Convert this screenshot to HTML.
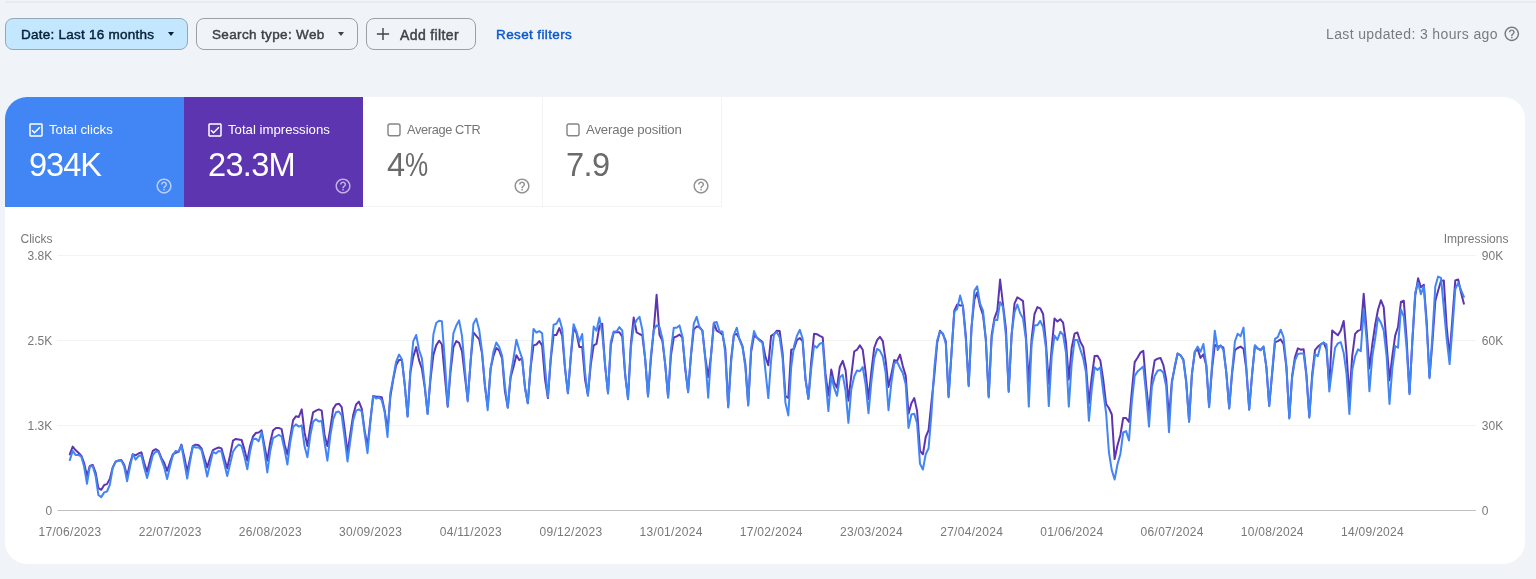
<!DOCTYPE html>
<html><head><meta charset="utf-8"><title>Performance</title>
<style>
*{box-sizing:border-box;margin:0;padding:0}
html,body{width:1536px;height:579px;overflow:hidden;background:#f0f4f9;font-family:"Liberation Sans",sans-serif;}
body{position:relative}
.topline{position:absolute;left:5px;top:1px;width:1531px;height:2px;background:#e8ecf1}
.chip{position:absolute;top:18px;height:32px;border:1px solid #9aa0a6;border-radius:8px;font-size:13.5px;color:#3f4245;line-height:30px;white-space:nowrap;-webkit-text-stroke:.45px currentColor}
.chip span{position:absolute;top:.9px}
.chip.sel{background:#c2e7ff;border-color:#93a7b8;color:#072038}
.tri{position:absolute;top:12.6px;width:0;height:0;border-left:3.8px solid transparent;border-right:3.8px solid transparent;border-top:4.2px solid #3f4245}
.chip.sel .tri{border-top-color:#072038}
.reset{position:absolute;left:495.6px;top:27.1px;font-size:13.5px;letter-spacing:.38px;color:#0b57d0;line-height:16px;white-space:nowrap;-webkit-text-stroke:.42px #0b57d0}
.updated{position:absolute;left:1326.3px;top:25.2px;font-size:14px;letter-spacing:.37px;color:#797c7f;line-height:18px;white-space:nowrap}
.card{position:absolute;left:5px;top:97px;width:1520px;height:467px;background:#fff;border-radius:22px;overflow:hidden}
.tile{position:absolute;top:0;height:110px;width:179px}
.tile .lbl{position:absolute;left:43.6px;top:25.5px;font-size:13.2px;line-height:14px;white-space:nowrap}
.tile .val{position:absolute;left:24.2px;top:49.8px;font-size:32.6px;line-height:36px;white-space:nowrap}
.tile .cb{position:absolute;left:21.6px;top:24px;width:18px;height:18px}
.tile .help{position:absolute;left:149.8px;top:80.3px}
.t4 .help{left:150.2px}
.t1{left:0;background:#4285f4;color:#fff}
.t2{left:179px;background:#5e35b1;color:#fff}
.t3{left:358px;width:180px;color:#757575;border-right:1px solid #f2f2f2;border-bottom:1px solid #f2f2f2}
.t4{left:537px;width:180px;color:#757575;border-right:1px solid #f2f2f2;border-bottom:1px solid #f2f2f2}
.t3 .val,.t4 .val{color:#6a6a6a}
svg.chart{position:absolute;left:0;top:0;will-change:transform}
.chip span,.reset,.updated,.tile .lbl,.tile .val{will-change:transform}
svg.chart text{font-family:"Liberation Sans",sans-serif;font-size:12px;fill:#787878}
svg.chart .xl text{letter-spacing:.3px}
</style></head><body>
<div class="topline"></div>
<div class="chip sel" style="left:5px;width:183px"><span style="left:14.9px;letter-spacing:.25px">Date: Last 16 months</span><i class="tri" style="left:161.6px"></i></div>
<div class="chip" style="left:196px;width:162px"><span style="left:14.5px;letter-spacing:.35px">Search type: Web</span><i class="tri" style="left:140.8px"></i></div>
<div class="chip" style="left:366px;width:109.5px"><svg style="position:absolute;left:9px;top:8.2px" width="14" height="14" viewBox="0 0 14 14"><path d="M7 .9v12.2M.9 7h12.2" stroke="#3f4245" stroke-width="1.4" fill="none"/></svg><span style="left:33.3px;font-size:14px;letter-spacing:.38px">Add filter</span></div>
<div class="reset">Reset filters</div>
<div class="updated">Last updated: 3 hours ago</div>
<div style="position:absolute;left:1503.2px;top:25.1px;width:17.6px;height:17.6px"><svg width="17.6" height="17.6" viewBox="0 0 24 24" fill="#797c7f"><path d="M11 18h2v-2h-2v2zm1-16C6.48 2 2 6.480 2 12s4.480 10 10 10 10-4.480 10-10S17.520 2 12 2zm0 18c-4.410 0-8-3.590-8-8s3.590-8 8-8 8 3.590 8 8-3.590 8-8 8zm0-14c-2.210 0-4 1.790-4 4h2c0-1.100.9-2 2-2s2 .9 2 2c0 2-3 1.750-3 5h2c0-2.250 3-2.500 3-5 0-2.210-1.790-4-4-4z"/></svg></div>

<div class="card">
 <div class="tile t1"><svg class="cb" viewBox="0 0 24 24" fill="#fff"><path d="M19 3H5c-1.100 0-2 .9-2 2v14c0 1.100.9 2 2 2h14c1.100 0 2-.9 2-2V5c0-1.100-.9-2-2-2zm0 16H5V5h14v14zM17.990 9l-1.410-1.420-6.590 6.590-2.580-2.570-1.420 1.410 4 3.990z"/></svg><div class="lbl">Total clicks</div><div class="val" style="letter-spacing:-1.05px">934K</div><svg class="help" width="18.1" height="18.1" viewBox="0 0 24 24" fill="rgba(255,255,255,.62)"><path d="M11 18h2v-2h-2v2zm1-16C6.48 2 2 6.480 2 12s4.480 10 10 10 10-4.480 10-10S17.520 2 12 2zm0 18c-4.410 0-8-3.590-8-8s3.590-8 8-8 8 3.590 8 8-3.590 8-8 8zm0-14c-2.210 0-4 1.790-4 4h2c0-1.100.9-2 2-2s2 .9 2 2c0 2-3 1.750-3 5h2c0-2.250 3-2.500 3-5 0-2.210-1.790-4-4-4z"/></svg></div>
 <div class="tile t2"><svg class="cb" viewBox="0 0 24 24" fill="#fff"><path d="M19 3H5c-1.100 0-2 .9-2 2v14c0 1.100.9 2 2 2h14c1.100 0 2-.9 2-2V5c0-1.100-.9-2-2-2zm0 16H5V5h14v14zM17.990 9l-1.410-1.420-6.590 6.590-2.580-2.570-1.420 1.410 4 3.990z"/></svg><div class="lbl">Total impressions</div><div class="val" style="letter-spacing:-.7px">23.3M</div><svg class="help" width="18.1" height="18.1" viewBox="0 0 24 24" fill="rgba(255,255,255,.62)"><path d="M11 18h2v-2h-2v2zm1-16C6.48 2 2 6.480 2 12s4.480 10 10 10 10-4.480 10-10S17.520 2 12 2zm0 18c-4.410 0-8-3.590-8-8s3.590-8 8-8 8 3.590 8 8-3.590 8-8 8zm0-14c-2.210 0-4 1.790-4 4h2c0-1.100.9-2 2-2s2 .9 2 2c0 2-3 1.750-3 5h2c0-2.250 3-2.500 3-5 0-2.210-1.790-4-4-4z"/></svg></div>
 <div class="tile t3"><svg class="cb" viewBox="0 0 24 24" fill="none"><rect x="4" y="4" width="16" height="15.6" rx="2.6" stroke="#858585" stroke-width="1.9"/></svg><div class="lbl" style="font-size:12.8px;letter-spacing:-.36px">Average CTR</div><div class="val">4<span style="display:inline-block;transform:scaleX(.8);transform-origin:0 50%;margin-left:-.5px">%</span></div><svg class="help" width="18.1" height="18.1" viewBox="0 0 24 24" fill="#939393"><path d="M11 18h2v-2h-2v2zm1-16C6.48 2 2 6.480 2 12s4.480 10 10 10 10-4.480 10-10S17.520 2 12 2zm0 18c-4.410 0-8-3.590-8-8s3.590-8 8-8 8 3.590 8 8-3.590 8-8 8zm0-14c-2.210 0-4 1.790-4 4h2c0-1.100.9-2 2-2s2 .9 2 2c0 2-3 1.750-3 5h2c0-2.250 3-2.500 3-5 0-2.210-1.790-4-4-4z"/></svg></div>
 <div class="tile t4"><svg class="cb" viewBox="0 0 24 24" fill="none"><rect x="4" y="4" width="16" height="15.6" rx="2.6" stroke="#858585" stroke-width="1.9"/></svg><div class="lbl" style="letter-spacing:-.15px">Average position</div><div class="val" style="letter-spacing:-.6px;margin-left:.1px">7.9</div><svg class="help" width="18.1" height="18.1" viewBox="0 0 24 24" fill="#939393"><path d="M11 18h2v-2h-2v2zm1-16C6.48 2 2 6.480 2 12s4.480 10 10 10 10-4.480 10-10S17.520 2 12 2zm0 18c-4.410 0-8-3.590-8-8s3.590-8 8-8 8 3.590 8 8-3.590 8-8 8zm0-14c-2.210 0-4 1.790-4 4h2c0-1.100.9-2 2-2s2 .9 2 2c0 2-3 1.750-3 5h2c0-2.250 3-2.500 3-5 0-2.210-1.790-4-4-4z"/></svg></div>
</div>

<svg class="chart" width="1536" height="579" viewBox="0 0 1536 579">
 <g stroke="#f3f3f3" stroke-width="1">
  <line x1="57.5" y1="255.5" x2="1476" y2="255.5"/>
  <line x1="57.5" y1="340.5" x2="1476" y2="340.5"/>
  <line x1="57.5" y1="425.5" x2="1476" y2="425.5"/>
 </g>
 <line x1="57.5" y1="510.5" x2="1476" y2="510.5" stroke="#c0c0c0" stroke-width="1"/>
 <text x="20.5" y="243.3">Clicks</text>
 <g text-anchor="end"><text x="52.3" y="259.8">3.8K</text><text x="52.3" y="344.8">2.5K</text><text x="52.3" y="429.8">1.3K</text><text x="52.3" y="514.8">0</text></g>
 <text x="1508.4" y="243.3" text-anchor="end">Impressions</text>
 <text x="1481.8" y="259.8">90K</text><text x="1481.8" y="344.8">60K</text><text x="1481.8" y="429.8">30K</text><text x="1481.8" y="514.8">0</text>
 <g class="xl"><text x="70.0" y="535.6" text-anchor="middle">17/06/2023</text><text x="170.2" y="535.6" text-anchor="middle">22/07/2023</text><text x="270.4" y="535.6" text-anchor="middle">26/08/2023</text><text x="370.6" y="535.6" text-anchor="middle">30/09/2023</text><text x="470.8" y="535.6" text-anchor="middle">04/11/2023</text><text x="571.0" y="535.6" text-anchor="middle">09/12/2023</text><text x="671.1" y="535.6" text-anchor="middle">13/01/2024</text><text x="771.3" y="535.6" text-anchor="middle">17/02/2024</text><text x="871.5" y="535.6" text-anchor="middle">23/03/2024</text><text x="971.7" y="535.6" text-anchor="middle">27/04/2024</text><text x="1071.9" y="535.6" text-anchor="middle">01/06/2024</text><text x="1172.1" y="535.6" text-anchor="middle">06/07/2024</text><text x="1272.3" y="535.6" text-anchor="middle">10/08/2024</text><text x="1372.5" y="535.6" text-anchor="middle">14/09/2024</text></g>
 <path d="M69.8,454.4 L72.7,446.6 L75.5,450.1 L78.4,452.7 L81.3,455.6 L84.1,463.0 L87.0,476.0 L89.8,466.0 L92.7,464.8 L95.6,472.5 L98.4,488.1 L101.3,489.8 L104.2,485.0 L107.0,484.1 L109.9,478.6 L112.7,467.4 L115.6,461.7 L118.5,460.4 L121.3,460.1 L124.2,464.8 L127.1,476.0 L129.9,463.9 L132.8,454.4 L135.6,455.3 L138.5,453.5 L141.4,452.3 L144.2,463.0 L147.1,471.7 L150.0,460.4 L152.8,450.9 L155.7,449.2 L158.5,450.9 L161.4,457.9 L164.3,463.0 L167.1,470.8 L170.0,462.2 L172.9,454.4 L175.7,452.7 L178.6,451.8 L181.4,444.6 L184.3,457.0 L187.2,471.7 L190.0,458.7 L192.9,445.8 L195.8,444.6 L198.6,445.3 L201.5,448.4 L204.3,457.9 L207.2,467.4 L210.1,457.9 L212.9,450.1 L215.8,448.7 L218.7,447.5 L221.5,448.4 L224.4,458.7 L227.2,468.2 L230.1,455.3 L233.0,440.6 L235.8,438.9 L238.7,439.4 L241.6,439.9 L244.4,449.4 L247.3,460.7 L250.1,446.0 L253.0,436.5 L255.9,433.0 L258.7,432.5 L261.6,430.4 L264.5,446.0 L267.3,460.7 L270.2,442.5 L273.0,430.4 L275.9,427.9 L278.8,427.9 L281.6,429.1 L284.5,444.3 L287.4,454.6 L290.2,437.4 L293.1,420.1 L295.9,416.3 L298.8,417.0 L301.7,409.4 L304.5,432.2 L307.4,446.0 L310.3,427.0 L313.1,412.3 L316.0,410.6 L318.8,409.4 L321.7,410.6 L324.6,435.6 L327.4,446.0 L330.3,428.7 L333.2,408.9 L336.0,404.5 L338.9,403.7 L341.7,407.1 L344.6,428.7 L347.5,452.9 L350.3,433.9 L353.2,414.9 L356.1,404.5 L358.9,401.6 L361.8,408.9 L364.6,430.4 L367.5,446.0 L370.4,420.1 L373.2,395.9 L376.1,396.8 L379.0,396.8 L381.8,397.3 L384.7,410.6 L387.5,430.4 L390.4,396.4 L393.3,379.1 L396.1,365.3 L399.0,360.1 L401.9,360.1 L404.7,384.3 L407.6,416.0 L410.4,372.2 L413.3,356.6 L416.2,347.1 L419.0,360.1 L421.9,368.7 L424.8,387.7 L427.6,413.5 L430.5,379.1 L433.4,354.9 L436.2,345.4 L439.1,340.7 L441.9,344.5 L444.8,375.6 L447.7,406.7 L450.5,372.2 L453.4,347.1 L456.3,341.1 L459.1,342.8 L462.0,351.5 L464.8,375.6 L467.7,399.8 L470.6,361.8 L473.4,332.5 L476.3,335.9 L479.2,339.4 L482.0,353.2 L484.9,386.0 L487.7,406.7 L490.6,368.7 L493.5,355.8 L496.3,348.0 L499.2,350.6 L502.1,358.4 L504.9,391.2 L507.8,407.6 L510.6,377.4 L513.5,367.0 L516.4,355.3 L519.2,360.1 L522.1,358.4 L525.0,387.7 L527.8,403.3 L530.7,367.0 L533.5,345.4 L536.4,344.5 L539.3,341.1 L542.1,345.4 L545.0,379.1 L547.9,398.1 L550.7,360.1 L553.6,335.0 L556.4,335.0 L559.3,328.1 L562.2,335.9 L565.0,368.7 L567.9,393.2 L570.8,357.4 L573.6,328.0 L576.5,333.2 L579.3,347.0 L582.2,347.0 L585.1,379.8 L587.9,395.0 L590.8,364.3 L593.7,345.3 L596.5,343.9 L599.4,326.3 L602.2,323.7 L605.1,366.0 L608.0,393.0 L610.8,345.3 L613.7,332.3 L616.6,332.3 L619.4,332.3 L622.3,336.6 L625.1,374.6 L628.0,398.5 L630.9,343.5 L633.7,317.6 L636.6,332.3 L639.5,334.0 L642.3,335.3 L645.2,359.1 L648.0,396.0 L650.9,359.1 L653.8,329.7 L656.6,294.8 L659.5,334.9 L662.4,340.9 L665.2,364.3 L668.1,397.0 L670.9,355.6 L673.8,337.5 L676.7,336.3 L679.5,334.6 L682.4,337.5 L685.3,369.4 L688.1,391.5 L691.0,355.6 L693.8,329.4 L696.7,326.6 L699.6,327.1 L702.4,330.6 L705.3,357.4 L708.2,377.0 L711.0,355.6 L713.9,322.8 L716.7,330.6 L719.6,332.3 L722.5,334.6 L725.3,348.7 L728.2,406.5 L731.1,359.1 L733.9,334.9 L736.8,334.0 L739.6,339.2 L742.5,346.1 L745.4,364.3 L748.2,404.5 L751.1,352.2 L754.0,335.8 L756.8,337.5 L759.7,339.7 L762.5,342.0 L765.4,356.6 L768.3,365.3 L771.1,335.9 L774.0,334.2 L776.9,330.7 L779.7,331.1 L782.6,353.2 L785.4,396.0 L788.3,398.0 L791.2,349.7 L794.0,348.9 L796.9,340.2 L799.8,338.0 L802.6,341.1 L805.5,379.1 L808.4,398.5 L811.2,361.8 L814.1,333.8 L816.9,334.2 L819.8,335.9 L822.7,337.3 L825.5,373.9 L828.4,395.5 L831.3,369.6 L834.1,382.5 L837.0,387.8 L839.8,367.0 L842.7,360.9 L845.6,370.4 L848.4,400.7 L851.3,375.6 L854.2,351.5 L857.0,349.7 L859.9,345.4 L862.7,349.7 L865.6,372.2 L868.5,399.0 L871.3,372.2 L874.2,348.0 L877.1,340.2 L879.9,336.8 L882.8,341.1 L885.6,360.1 L888.5,386.9 L891.4,373.9 L894.2,360.1 L897.1,360.9 L900.0,354.6 L902.8,366.1 L905.7,375.6 L908.5,413.7 L911.4,403.3 L914.3,398.1 L917.1,411.1 L920.0,450.8 L922.9,454.3 L925.7,437.0 L928.6,430.1 L931.4,402.5 L934.3,375.6 L937.2,342.8 L940.0,330.7 L942.9,334.2 L945.8,341.1 L948.6,396.4 L951.5,352.9 L954.3,310.6 L957.2,304.5 L960.1,305.4 L962.9,305.4 L965.8,335.6 L968.7,385.5 L971.5,327.0 L974.4,299.4 L977.2,292.5 L980.1,306.3 L983.0,314.9 L985.8,339.1 L988.7,396.5 L991.6,335.6 L994.4,318.4 L997.3,310.6 L1000.1,279.5 L1003.0,304.5 L1005.9,328.7 L1008.7,391.0 L1011.6,335.6 L1014.5,303.7 L1017.3,297.3 L1020.2,299.0 L1023.0,301.1 L1025.9,335.6 L1028.8,382.0 L1031.6,339.1 L1034.5,314.0 L1037.4,307.1 L1040.2,308.3 L1043.1,314.0 L1045.9,342.5 L1048.8,383.7 L1051.7,347.7 L1054.5,318.4 L1057.4,321.5 L1060.3,319.2 L1063.1,322.7 L1066.0,342.5 L1068.8,379.4 L1071.7,347.7 L1074.6,333.6 L1077.4,332.5 L1080.3,341.7 L1083.2,346.9 L1086.0,366.0 L1088.9,403.5 L1091.7,377.6 L1094.6,356.0 L1097.5,355.7 L1100.3,360.4 L1103.2,379.4 L1106.1,404.0 L1108.9,408.0 L1111.8,414.5 L1114.6,459.1 L1117.5,445.3 L1120.4,434.9 L1123.2,418.0 L1126.1,418.0 L1129.0,422.0 L1131.8,391.6 L1134.7,362.1 L1137.5,357.8 L1140.4,352.7 L1143.3,350.9 L1146.1,384.6 L1149.0,412.5 L1151.9,377.7 L1154.7,360.4 L1157.6,358.7 L1160.5,357.9 L1163.3,364.8 L1166.2,379.4 L1169.0,417.6 L1171.9,381.2 L1174.8,367.4 L1177.6,353.5 L1180.5,355.3 L1183.4,359.6 L1186.2,381.2 L1189.1,421.0 L1191.9,374.3 L1194.8,351.8 L1197.7,349.2 L1200.5,357.9 L1203.4,354.4 L1206.3,365.6 L1209.1,406.5 L1212.0,369.1 L1214.8,344.9 L1217.7,346.6 L1220.6,345.8 L1223.4,347.5 L1226.3,372.5 L1229.2,408.0 L1232.0,374.3 L1234.9,350.1 L1237.7,348.0 L1240.6,346.6 L1243.5,348.7 L1246.3,369.1 L1249.2,409.0 L1252.1,374.3 L1254.9,345.8 L1257.8,348.7 L1260.6,350.1 L1263.5,347.0 L1266.4,367.4 L1269.2,405.5 L1272.1,374.3 L1275.0,342.3 L1277.8,341.1 L1280.7,339.4 L1283.5,344.0 L1286.4,367.4 L1289.3,417.5 L1292.1,376.0 L1295.0,357.0 L1297.9,348.4 L1300.7,349.7 L1303.6,349.2 L1306.4,374.3 L1309.3,416.5 L1312.2,374.3 L1315.0,350.1 L1317.9,346.6 L1320.8,344.3 L1323.6,342.5 L1326.5,349.4 L1329.3,386.0 L1332.2,330.4 L1335.1,333.0 L1337.9,335.3 L1340.8,330.4 L1343.7,320.9 L1346.5,352.9 L1349.4,397.1 L1352.2,356.4 L1355.1,333.9 L1358.0,330.8 L1360.8,329.6 L1363.7,293.8 L1366.6,330.4 L1369.4,368.5 L1372.3,344.3 L1375.1,325.3 L1378.0,309.7 L1380.9,300.2 L1383.7,307.1 L1386.6,344.3 L1389.5,380.2 L1392.3,356.4 L1395.2,335.6 L1398.0,327.0 L1400.9,302.0 L1403.8,300.7 L1406.6,339.1 L1409.5,393.0 L1412.4,340.8 L1415.2,295.9 L1418.1,278.3 L1420.9,287.3 L1423.8,284.7 L1426.7,321.8 L1429.5,377.0 L1432.4,342.5 L1435.3,301.1 L1438.1,290.7 L1441.0,280.7 L1443.8,280.4 L1446.7,327.0 L1449.6,356.4 L1452.4,318.4 L1455.3,280.4 L1458.2,279.5 L1461.0,292.5 L1463.9,303.7" fill="none" stroke="#5e35b1" stroke-width="2" stroke-linejoin="round" stroke-linecap="round"/>
 <path d="M69.8,460.1 L72.7,450.9 L75.5,454.9 L78.4,454.9 L81.3,456.6 L84.1,466.5 L87.0,483.8 L89.8,466.5 L92.7,466.0 L95.6,476.0 L98.4,495.0 L101.3,497.1 L104.2,492.4 L107.0,491.5 L109.9,484.6 L112.7,468.2 L115.6,461.8 L118.5,460.8 L121.3,460.4 L124.2,466.5 L127.1,481.2 L129.9,467.4 L132.8,453.9 L135.6,459.6 L138.5,456.1 L141.4,455.3 L144.2,467.4 L147.1,478.1 L150.0,466.5 L152.8,455.3 L155.7,451.5 L158.5,451.8 L161.4,459.6 L164.3,467.4 L167.1,479.1 L170.0,466.5 L172.9,455.3 L175.7,450.9 L178.6,451.8 L181.4,445.3 L184.3,462.2 L187.2,478.6 L190.0,462.2 L192.9,446.3 L195.8,447.5 L198.6,447.5 L201.5,450.1 L204.3,462.2 L207.2,476.5 L210.1,463.9 L212.9,451.8 L215.8,453.5 L218.7,450.9 L221.5,451.5 L224.4,463.9 L227.2,476.0 L230.1,463.9 L233.0,451.8 L235.8,447.5 L238.7,444.6 L241.6,446.0 L244.4,456.4 L247.3,469.3 L250.1,451.2 L253.0,439.1 L255.9,438.7 L258.7,441.2 L261.6,432.2 L264.5,451.2 L267.3,472.4 L270.2,451.2 L273.0,438.2 L275.9,436.5 L278.8,434.8 L281.6,436.5 L284.5,449.4 L287.4,464.6 L290.2,442.5 L293.1,427.0 L295.9,424.4 L298.8,426.6 L301.7,425.3 L304.5,446.0 L307.4,457.2 L310.3,435.6 L313.1,421.8 L316.0,419.2 L318.8,421.5 L321.7,420.9 L324.6,442.5 L327.4,460.7 L330.3,435.6 L333.2,419.2 L336.0,412.3 L338.9,411.5 L341.7,415.3 L344.6,437.4 L347.5,461.5 L350.3,440.8 L353.2,420.1 L356.1,410.6 L358.9,409.4 L361.8,411.5 L364.6,433.0 L367.5,453.2 L370.4,421.8 L373.2,395.9 L376.1,398.5 L379.0,397.3 L381.8,400.2 L384.7,412.3 L387.5,437.0 L390.4,392.9 L393.3,377.4 L396.1,361.8 L399.0,354.6 L401.9,359.2 L404.7,384.3 L407.6,416.8 L410.4,370.4 L413.3,341.1 L416.2,335.0 L419.0,349.7 L421.9,358.4 L424.8,386.0 L427.6,414.1 L430.5,375.6 L433.4,334.2 L436.2,323.0 L439.1,320.7 L441.9,321.2 L444.8,360.1 L447.7,405.9 L450.5,367.0 L453.4,333.3 L456.3,325.5 L459.1,320.4 L462.0,335.9 L464.8,368.7 L467.7,401.5 L470.6,361.8 L473.4,323.8 L476.3,318.6 L479.2,329.9 L482.0,351.5 L484.9,384.3 L487.7,410.2 L490.6,368.7 L493.5,351.5 L496.3,342.5 L499.2,347.1 L502.1,355.8 L504.9,386.0 L507.8,407.6 L510.6,375.6 L513.5,358.4 L516.4,339.7 L519.2,349.7 L522.1,358.4 L525.0,387.7 L527.8,403.3 L530.7,365.3 L533.5,329.0 L536.4,332.5 L539.3,331.1 L542.1,333.3 L545.0,367.0 L547.9,397.2 L550.7,358.4 L553.6,324.7 L556.4,323.8 L559.3,318.6 L562.2,329.0 L565.0,367.0 L567.9,393.2 L570.8,355.6 L573.6,324.2 L576.5,331.5 L579.3,341.8 L582.2,334.0 L585.1,372.9 L587.9,395.8 L590.8,359.1 L593.7,326.6 L596.5,330.6 L599.4,317.6 L602.2,333.2 L605.1,364.3 L608.0,393.6 L610.8,341.8 L613.7,331.5 L616.6,331.5 L619.4,327.1 L622.3,330.6 L625.1,372.9 L628.0,399.3 L630.9,347.0 L633.7,326.3 L636.6,320.2 L639.5,316.8 L642.3,329.7 L645.2,359.1 L648.0,396.8 L650.9,355.6 L653.8,329.7 L656.6,325.4 L659.5,327.1 L662.4,338.4 L665.2,364.3 L668.1,397.8 L670.9,350.4 L673.8,327.7 L676.7,327.7 L679.5,325.4 L682.4,336.6 L685.3,367.7 L688.1,392.3 L691.0,353.9 L693.8,323.7 L696.7,316.8 L699.6,328.0 L702.4,330.6 L705.3,359.1 L708.2,397.8 L711.0,355.6 L713.9,322.8 L716.7,322.0 L719.6,331.5 L722.5,331.5 L725.3,353.9 L728.2,407.5 L731.1,362.5 L733.9,334.9 L736.8,327.7 L739.6,340.1 L742.5,347.0 L745.4,367.7 L748.2,405.6 L751.1,348.7 L754.0,331.1 L756.8,337.5 L759.7,340.7 L762.5,342.8 L765.4,370.4 L768.3,398.1 L771.1,360.1 L774.0,334.2 L776.9,332.1 L779.7,337.6 L782.6,358.4 L785.4,402.5 L788.3,415.4 L791.2,367.0 L794.0,346.3 L796.9,335.9 L799.8,329.9 L802.6,338.5 L805.5,379.1 L808.4,399.0 L811.2,368.7 L814.1,345.4 L816.9,347.7 L819.8,343.7 L822.7,342.8 L825.5,379.1 L828.4,411.1 L831.3,376.5 L834.1,387.7 L837.0,395.9 L839.8,377.4 L842.7,374.8 L845.6,391.2 L848.4,422.8 L851.3,389.4 L854.2,376.5 L857.0,370.4 L859.9,371.3 L862.7,367.0 L865.6,384.3 L868.5,413.2 L871.3,382.5 L874.2,358.4 L877.1,348.9 L879.9,350.6 L882.8,356.6 L885.6,372.2 L888.5,410.2 L891.4,382.5 L894.2,363.5 L897.1,361.8 L900.0,367.9 L902.8,373.0 L905.7,384.3 L908.5,428.0 L911.4,414.5 L914.3,413.7 L917.1,423.2 L920.0,463.8 L922.9,469.5 L925.7,454.3 L928.6,448.2 L931.4,414.5 L934.3,368.7 L937.2,340.2 L940.0,331.6 L942.9,333.3 L945.8,343.7 L948.6,397.2 L951.5,352.9 L954.3,311.5 L957.2,308.9 L960.1,295.6 L962.9,306.3 L965.8,339.1 L968.7,386.3 L971.5,328.7 L974.4,290.7 L977.2,286.4 L980.1,303.7 L983.0,310.6 L985.8,339.1 L988.7,397.5 L991.6,339.1 L994.4,320.1 L997.3,320.1 L1000.1,302.0 L1003.0,307.1 L1005.9,335.6 L1008.7,392.0 L1011.6,333.9 L1014.5,312.3 L1017.3,304.5 L1020.2,313.2 L1023.0,318.4 L1025.9,339.1 L1028.8,406.6 L1031.6,344.3 L1034.5,325.3 L1037.4,325.3 L1040.2,320.9 L1043.1,327.0 L1045.9,347.7 L1048.8,406.1 L1051.7,356.4 L1054.5,335.6 L1057.4,339.9 L1060.3,331.8 L1063.1,334.8 L1066.0,352.9 L1068.8,406.6 L1071.7,363.3 L1074.6,339.9 L1077.4,339.9 L1080.3,349.4 L1083.2,358.1 L1086.0,372.5 L1088.9,420.8 L1091.7,389.7 L1094.6,367.3 L1097.5,369.9 L1100.3,367.3 L1103.2,391.5 L1106.1,413.0 L1108.9,452.0 L1111.8,470.3 L1114.6,479.5 L1117.5,464.3 L1120.4,453.9 L1123.2,432.5 L1126.1,431.1 L1129.0,440.5 L1131.8,402.0 L1134.7,375.9 L1137.5,371.6 L1140.4,369.1 L1143.3,366.5 L1146.1,393.3 L1149.0,426.6 L1151.9,386.4 L1154.7,376.0 L1157.6,370.8 L1160.5,369.9 L1163.3,372.5 L1166.2,386.4 L1169.0,432.3 L1171.9,382.9 L1174.8,365.6 L1177.6,353.5 L1180.5,355.3 L1183.4,360.4 L1186.2,382.9 L1189.1,422.0 L1191.9,374.3 L1194.8,351.8 L1197.7,346.6 L1200.5,351.8 L1203.4,344.0 L1206.3,365.6 L1209.1,407.3 L1212.0,365.6 L1214.8,330.7 L1217.7,350.1 L1220.6,345.3 L1223.4,350.1 L1226.3,372.5 L1229.2,408.7 L1232.0,372.5 L1234.9,341.5 L1237.7,333.7 L1240.6,336.3 L1243.5,327.6 L1246.3,367.4 L1249.2,409.9 L1252.1,374.3 L1254.9,345.3 L1257.8,348.4 L1260.6,350.1 L1263.5,346.3 L1266.4,367.4 L1269.2,406.2 L1272.1,372.5 L1275.0,338.9 L1277.8,337.1 L1280.7,329.7 L1283.5,337.1 L1286.4,365.6 L1289.3,418.6 L1292.1,377.7 L1295.0,360.4 L1297.9,353.9 L1300.7,353.5 L1303.6,353.5 L1306.4,376.0 L1309.3,417.7 L1312.2,377.7 L1315.0,354.4 L1317.9,356.1 L1320.8,344.3 L1323.6,342.5 L1326.5,344.3 L1329.3,391.5 L1332.2,368.4 L1335.1,347.7 L1337.9,343.4 L1340.8,342.2 L1343.7,352.9 L1346.5,373.6 L1349.4,414.0 L1352.2,370.2 L1355.1,356.4 L1358.0,349.4 L1360.8,351.2 L1363.7,308.9 L1366.6,339.1 L1369.4,391.3 L1372.3,356.4 L1375.1,339.1 L1378.0,317.5 L1380.9,322.7 L1383.7,330.4 L1386.6,356.4 L1389.5,404.0 L1392.3,368.4 L1395.2,346.0 L1398.0,347.7 L1400.9,309.4 L1403.8,316.6 L1406.6,347.7 L1409.5,394.1 L1412.4,339.1 L1415.2,292.5 L1418.1,283.0 L1420.9,294.2 L1423.8,286.4 L1426.7,327.0 L1429.5,378.2 L1432.4,335.6 L1435.3,286.4 L1438.1,276.6 L1441.0,277.8 L1443.8,308.0 L1446.7,339.1 L1449.6,364.1 L1452.4,328.7 L1455.3,289.0 L1458.2,283.0 L1461.0,289.9 L1463.9,296.8" fill="none" stroke="#4285f4" stroke-width="2" stroke-linejoin="round" stroke-linecap="round"/>
</svg>
</body></html>
